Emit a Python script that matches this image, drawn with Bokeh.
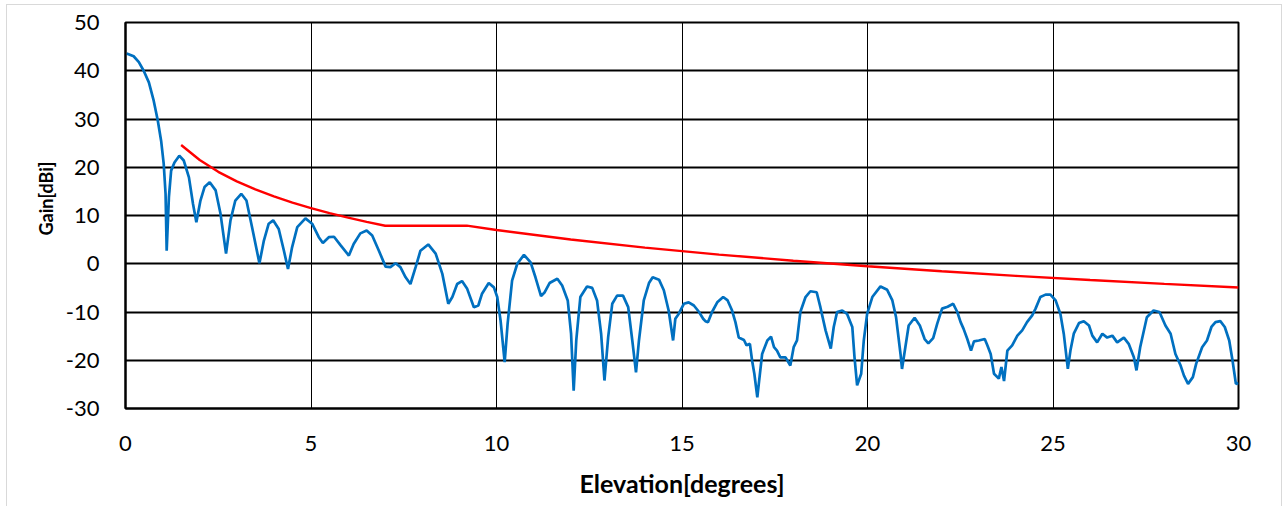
from bokeh.plotting import figure
from bokeh.models import FixedTicker, Range1d, PrintfTickFormatter, Title
from bokeh.embed import file_html
from bokeh.resources import INLINE

# Measured antenna pattern (blue)
elev = [0.03, 0.22, 0.36, 0.49, 0.63, 0.76, 0.87, 0.96, 1.03, 1.08, 1.11, 1.17, 1.23, 1.32, 1.45, 1.57,
        1.71, 1.82, 1.91, 2.02, 2.13, 2.27, 2.43, 2.56, 2.71, 2.83, 2.96, 3.12, 3.26, 3.41, 3.61, 3.73,
        3.86, 3.98, 4.13, 4.27, 4.38, 4.49, 4.63, 4.85, 5.03, 5.21, 5.32, 5.48, 5.62, 5.80, 6.02, 6.15,
        6.33, 6.50, 6.65, 6.83, 7.01, 7.14, 7.28, 7.41, 7.55, 7.68, 7.82, 7.95, 8.16, 8.36, 8.54, 8.70,
        8.81, 8.94, 9.07, 9.21, 9.39, 9.51, 9.61, 9.79, 9.93, 10.02, 10.11, 10.22, 10.30, 10.42, 10.56, 10.74,
        10.92, 11.05, 11.20, 11.30, 11.43, 11.64, 11.77, 11.92, 12.01, 12.08, 12.15, 12.26, 12.44, 12.58, 12.71, 12.82,
        12.91, 13.01, 13.12, 13.25, 13.41, 13.55, 13.66, 13.76, 13.84, 13.97, 14.11, 14.21, 14.38, 14.51, 14.64, 14.76,
        14.82, 14.91, 15.05, 15.18, 15.32, 15.46, 15.57, 15.63, 15.70, 15.81, 15.95, 16.11, 16.23, 16.35, 16.44, 16.53,
        16.67, 16.74, 16.83, 16.89, 16.95, 17.03, 17.07, 17.16, 17.30, 17.40, 17.48, 17.56, 17.65, 17.79, 17.92, 18.01,
        18.10, 18.19, 18.33, 18.46, 18.63, 18.73, 18.87, 19.01, 19.09, 19.18, 19.32, 19.45, 19.59, 19.65, 19.72, 19.83,
        19.90, 19.99, 20.13, 20.35, 20.53, 20.67, 20.77, 20.89, 20.93, 21.02, 21.11, 21.27, 21.41, 21.54, 21.64, 21.77,
        21.88, 22.01, 22.16, 22.31, 22.42, 22.51, 22.59, 22.69, 22.79, 22.87, 23.00, 23.16, 23.23, 23.32, 23.41, 23.54,
        23.61, 23.68, 23.77, 23.90, 24.04, 24.17, 24.30, 24.44, 24.53, 24.66, 24.80, 24.93, 25.07, 25.20, 25.29, 25.40,
        25.47, 25.56, 25.70, 25.83, 25.97, 26.06, 26.19, 26.33, 26.46, 26.60, 26.73, 26.91, 27.04, 27.18, 27.25, 27.35,
        27.53, 27.71, 27.87, 28.03, 28.17, 28.30, 28.44, 28.53, 28.64, 28.77, 28.86, 29.02, 29.15, 29.27, 29.38, 29.51,
        29.63, 29.75, 29.84, 29.93, 30.00]
gain = [43.6, 43.0, 41.8, 40.0, 37.6, 33.8, 29.7, 25.5, 20.7, 14.5, 2.7, 13.8, 19.3, 21.0, 22.4, 21.4,
        17.9, 12.4, 8.6, 13.1, 15.9, 16.9, 15.2, 10.4, 2.1, 9.0, 13.1, 14.5, 13.1, 7.6, 0.1, 4.8,
        8.3, 9.0, 7.2, 2.7, -1.1, 3.4, 7.6, 9.4, 8.3, 5.5, 4.3, 5.5, 5.6, 3.8, 1.7, 4.1,
        6.3, 6.9, 5.85, 2.7, -0.6, -0.7, 0.1, -0.7, -2.8, -4.2, -0.7, 2.7, 4.0, 2.1, -2.1, -8.3,
        -6.9, -4.2, -3.6, -5.2, -9.0, -8.65, -6.2, -4.0, -4.9, -6.9, -11.8, -20.4, -12.4, -3.5, 0.0, 1.85,
        0.3, -2.8, -6.7, -5.9, -4.0, -3.1, -4.5, -7.6, -14.5, -26.3, -15.9, -6.9, -4.7, -5.0, -7.6, -14.5,
        -24.2, -15.2, -8.3, -6.6, -6.6, -9.0, -15.9, -22.5, -15.9, -7.6, -4.0, -2.8, -3.3, -5.5, -9.7, -15.9,
        -11.4, -10.4, -8.3, -8.0, -8.65, -10.0, -11.4, -11.9, -12.1, -10.0, -8.0, -6.9, -7.6, -9.7, -12.1, -15.3,
        -15.8, -16.9, -16.6, -20.1, -22.8, -27.7, -24.9, -18.7, -15.9, -15.1, -17.3, -18.0, -19.4, -19.4, -21.1, -17.3,
        -15.9, -10.0, -6.9, -5.7, -5.9, -9.0, -13.8, -17.6, -13.1, -10.0, -9.7, -10.4, -13.1, -19.4, -25.2, -22.8,
        -15.9, -10.4, -6.9, -4.7, -5.4, -7.6, -11.1, -18.7, -21.8, -17.3, -12.8, -11.2, -12.8, -15.6, -16.5, -15.4,
        -12.4, -9.3, -8.9, -8.3, -10.0, -12.1, -13.5, -15.6, -18.0, -16.1, -15.9, -15.6, -16.9, -18.7, -22.8, -23.8,
        -21.4, -24.3, -18.0, -16.9, -14.9, -13.8, -12.1, -10.7, -9.3, -6.9, -6.4, -6.4, -7.6, -10.4, -14.5, -21.8,
        -18.0, -14.5, -12.3, -11.9, -12.8, -14.9, -16.3, -14.5, -15.3, -14.9, -16.3, -15.3, -16.6, -19.4, -22.1, -17.3,
        -11.1, -9.7, -10.0, -12.8, -14.5, -18.7, -21.1, -23.2, -24.9, -23.5, -20.7, -17.3, -15.9, -13.1, -12.1, -11.9,
        -13.1, -15.9, -20.1, -24.9, -24.7]

# Reference envelope (red)
mask_elev = [1.5, 2.0, 2.5, 3.0, 3.5, 4.0, 4.5, 5.0, 5.5, 6.0, 6.5, 7.0, 9.2, 10, 12, 14, 16, 18, 20, 22, 24, 26, 28, 30]
mask_gain = [24.6, 21.5, 19.05, 17.07, 15.4, 13.95, 12.67, 11.53, 10.49, 9.55, 8.68, 7.87, 7.9, 7.0, 5.02, 3.35,
             1.90, 0.62, -0.53, -1.56, -2.51, -3.37, -4.18, -4.93]

x_ticks = [0, 5, 10, 15, 20, 25, 30]
y_ticks = [-30, -20, -10, 0, 10, 20, 30, 40, 50]

FONT = "Lato"

p = figure(width=1274, height=501, output_backend="svg", toolbar_location=None,
           x_range=Range1d(0, 30), y_range=Range1d(-30, 50),
           min_border_left=118, min_border_right=43, min_border_top=17, min_border_bottom=98)
p.margin = (5, 0, 0, 7)
p.styles = {"box-shadow": "0 0 0 1px #d9d9d9"}

p.line(elev, gain, line_color="#0070C0", line_width=2.7)
p.line(mask_elev, mask_gain, line_color="#FF0000", line_width=2.4)

p.xaxis.ticker = FixedTicker(ticks=x_ticks)
p.yaxis.ticker = FixedTicker(ticks=y_ticks)
p.xaxis.formatter = PrintfTickFormatter(format="%d")
p.yaxis.formatter = PrintfTickFormatter(format="%d")
for ax in (p.xaxis[0], p.yaxis[0]):
    ax.major_tick_line_color = None
    ax.minor_tick_line_color = None
    ax.axis_line_color = "black"
    ax.axis_line_width = 2
    ax.major_label_text_font = FONT
    ax.major_label_text_font_size = "22px"
    ax.major_label_text_color = "black"
    ax.axis_label_text_font = FONT
    ax.axis_label_text_font_style = "bold"
    ax.axis_label_text_color = "black"

p.xaxis.axis_label = "Elevation[degrees]"
p.xaxis.axis_label_text_font_size = "25px"
p.xaxis.major_label_standoff = 21
p.yaxis.major_label_standoff = 20
p.xaxis.axis_label_standoff = 14

# y-axis title, shifted above the frame's centre as in the original
p.add_layout(Title(text="Gain[dBi]", align="left", offset=173, standoff=11,
                   text_font=FONT, text_font_style="bold", text_font_size="18px",
                   text_color="black"), "left")

p.xgrid.grid_line_color = "black"
p.xgrid.grid_line_width = 1
p.xgrid.grid_line_alpha = 1
p.ygrid.grid_line_color = "black"
p.ygrid.grid_line_width = 2
p.ygrid.grid_line_alpha = 1

p.outline_line_color = "black"
p.outline_line_width = 2
p.background_fill_color = "white"
p.border_fill_color = "white"

open("out.html", "w").write(file_html(p, INLINE))
